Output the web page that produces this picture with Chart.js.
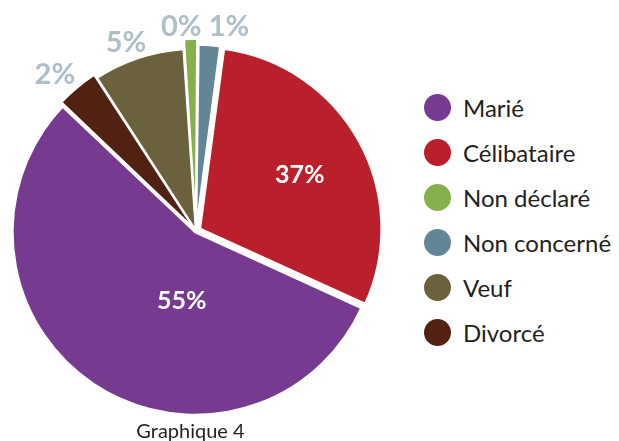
<!DOCTYPE html>
<html lang="fr">
<head>
<meta charset="UTF-8">
<title>Graphique 4</title>
<script src="https://cdn.jsdelivr.net/npm/chart.js"></script>
<style>
    body { margin: 0; background: #fff; font-family: Lato, sans-serif; color: #231f20; }
    #wrap { position: relative; width: 619px; height: 441px; overflow: hidden; }
    #pie-box { position: absolute; left: 0; top: 0; width: 392px; height: 441px; }
    #legend { position: absolute; left: 424px; top: 85px; }
    .row { height: 45px; display: flex; align-items: center; white-space: nowrap; }
    .dot { width: 27px; height: 27px; border-radius: 50%; margin-right: 12px; flex: none; }
    .row span { font-size: 24px; line-height: 24px; }
    #caption { position: absolute; left: 0; top: 420px; width: 381px; text-align: center; font-size: 20px; line-height: 20px; }
</style>
</head>
<body>
<div id="wrap">
    <div id="pie-box"><canvas id="pieChart"></canvas></div>
    <div id="legend"></div>
    <div id="caption">Graphique 4</div>
</div>
<script>
    // slices in drawing order, clockwise from 12 o'clock
    const categories = ['Non concerné', 'Célibataire', 'Marié', 'Divorcé', 'Veuf', 'Non déclaré'];
    const shares = [1.93, 29.69, 55.28, 3.78, 8.06, 1.26];   // share of the circle
    const printedPct = ['1%', '37%', '55%', '2%', '5%', '0%'];  // percentages as printed on the chart
    const sliceColors = ['#628696', '#ba1f2c', '#763a90', '#512212', '#6b613d', '#85b04b'];
    const legendOrder = ['Marié', 'Célibataire', 'Non déclaré', 'Non concerné', 'Veuf', 'Divorcé'];

    // where each percentage sits: fraction of radius, angle nudge in degrees
    const labelPlacement = [
        { r: 1.153, turn: 5.0, inside: false },
        { r: 0.652, turn: 0.6, inside: true },
        { r: 0.395, turn: -22.5, inside: true },
        { r: 1.172, turn: -2.0, inside: false },
        { r: 1.119, turn: -1.8, inside: false },
        { r: 1.141, turn: -2.5, inside: false }
    ];

    const pctLabels = {
        id: 'pctLabels',
        afterDatasetsDraw(chart) {
            const ctx = chart.ctx;
            chart.getDatasetMeta(0).data.forEach((arc, i) => {
                const p = labelPlacement[i];
                const mid = (arc.startAngle + arc.endAngle) / 2 + p.turn * Math.PI / 180;
                const r = arc.outerRadius * p.r;
                ctx.save();
                ctx.font = p.inside ? 'bold 25px Lato' : 'bold 29px Lato';
                ctx.fillStyle = p.inside ? '#ffffff' : '#aebfc8';
                ctx.textAlign = 'center';
                ctx.textBaseline = 'middle';
                ctx.fillText(printedPct[i], arc.x + Math.cos(mid) * r, arc.y + Math.sin(mid) * r + (p.inside ? 0 : 2));
                ctx.restore();
            });
        }
    };

    new Chart(document.getElementById('pieChart'), {
        type: 'pie',
        data: {
            labels: categories,
            datasets: [{
                data: shares,
                backgroundColor: sliceColors,
                borderColor: '#ffffff',
                borderWidth: 2,
                // chart.js moves an arc by only a part of its offset, hence the larger numbers
                offset: [11, 19, 6, 12, 3, 23]
            }]
        },
        options: {
            responsive: true,
            maintainAspectRatio: false,
            animation: false,
            rotation: 0.65,
            radius: 181,
            layout: { padding: { top: 21 } },
            plugins: {
                legend: { display: false },
                tooltip: { enabled: false }
            }
        },
        plugins: [pctLabels]
    });

    // legend in the order of the original
    const legendEl = document.getElementById('legend');
    legendOrder.forEach(name => {
        const i = categories.indexOf(name);
        const row = document.createElement('div');
        row.className = 'row';
        row.innerHTML = '<div class="dot" style="background:' + sliceColors[i] + '"></div><span>' + name + '</span>';
        legendEl.appendChild(row);
    });
</script>
</body>
</html>
